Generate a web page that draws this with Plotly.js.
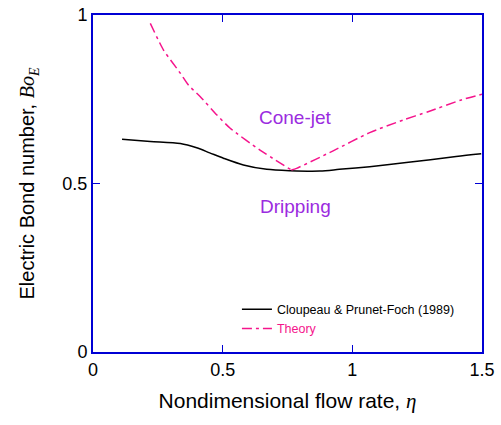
<!DOCTYPE html>
<html>
<head>
<meta charset="utf-8">
<script src="https://cdn.plot.ly/plotly-3.0.1.min.js"></script>
<style>html,body{margin:0;padding:0;background:#fff;}#chart{width:501px;height:425px;}</style>
</head>
<body>
<div id="chart"></div>
<script>
// Experimental data: Cloupeau & Prunet-Foch (1989)
var expX = [0.112, 0.221, 0.337, 0.40, 0.45, 0.503, 0.58, 0.67, 0.76, 0.875, 0.95, 1.067, 1.208, 1.40, 1.497];
var expY = [0.631, 0.625, 0.619, 0.606, 0.591, 0.575, 0.555, 0.542, 0.538, 0.537, 0.542, 0.550, 0.562, 0.580, 0.588];
// Theory curve (left and right branches meet at the minimum)
var theoryLeftX = [0.221, 0.272, 0.337, 0.368, 0.413, 0.478, 0.529, 0.644, 0.765];
var theoryLeftY = [0.975, 0.896, 0.827, 0.792, 0.758, 0.703, 0.664, 0.599, 0.540];
var theoryRightX = [0.765, 0.785, 0.926, 1.067, 1.195, 1.292, 1.42, 1.5];
var theoryRightY = [0.540, 0.545, 0.597, 0.651, 0.688, 0.713, 0.748, 0.765];
// Region labels
var regionLabels = ["Cone-jet", "Dripping"];
var regionX = [0.779, 0.779];
var regionY = [0.697, 0.433];
var xTicks = [0, 0.5, 1, 1.5];
var xTickText = ["0", "0.5", "1", "1.5"];
var yTicks = [0, 0.5, 1];
var yTickText = ["0", "0.5", "1"];

var pink = "#f5148c";
var purple = "#9b2be0";
var blue = "#0000d4";
var serif = "'Liberation Serif','Times New Roman',serif";
var dashPat = "10px,4px,3px,4px";

var traces = [
  {x: expX, y: expY, mode: "lines", name: "Cloupeau &amp; Prunet-Foch (1989)",
   line: {color: "#000", width: 1.5, shape: "spline", smoothing: 0.8}},
  {x: theoryLeftX, y: theoryLeftY, mode: "lines", name: '<span style="color:' + pink + '">Theory</span>',
   legendgroup: "th", line: {color: pink, width: 1.5, dash: dashPat, shape: "spline", smoothing: 0.6}},
  {x: theoryRightX, y: theoryRightY, mode: "lines", name: "Theory", showlegend: false,
   legendgroup: "th", line: {color: pink, width: 1.5, dash: dashPat, shape: "spline", smoothing: 0.6}}
];

var annotations = regionLabels.map(function(t, i){
  return {x: regionX[i], y: regionY[i], xref: "x", yref: "y", text: t, showarrow: false,
          font: {family: "Liberation Sans, Arial, sans-serif", size: 19, color: purple}};
});

var layout = {
  width: 501, height: 425,
  margin: {l: 92.5, r: 18.5, t: 15, b: 73},
  paper_bgcolor: "#fff", plot_bgcolor: "#fff",
  font: {family: "Liberation Sans, Arial, sans-serif", color: "#000"},
  showlegend: true,
  legend: {x: 0.37, y: 0.17, xanchor: "left", yanchor: "top", bgcolor: "rgba(0,0,0,0)",
           font: {size: 12.5, color: "#000"}, tracegroupgap: 0},
  xaxis: {range: [0, 1.5], tickvals: xTicks, ticktext: xTickText, ticks: "inside", ticklen: 7,
          tickwidth: 1.5, tickcolor: blue, showline: true, linecolor: blue, linewidth: 2,
          mirror: "ticks", showgrid: false, zeroline: false, tickfont: {size: 18},
          title: {text: 'Nondimensional flow rate, <span style="font-family:' + serif + ';font-style:italic">η</span>',
                  font: {size: 21}, standoff: 15}},
  yaxis: {range: [0, 1], tickvals: yTicks, ticktext: yTickText, ticks: "inside", ticklen: 7,
          tickwidth: 1.5, tickcolor: blue, showline: true, linecolor: blue, linewidth: 2,
          mirror: "ticks", showgrid: false, zeroline: false, tickfont: {size: 18},
          title: {text: 'Electric Bond number, <span style="font-family:' + serif + ';font-style:italic">Bo</span><sub><span style="font-family:' + serif + ';font-style:italic">E</span></sub>',
                  font: {size: 20}, standoff: 22}},
  annotations: annotations
};

Plotly.newPlot("chart", traces, layout, {displayModeBar: false, staticPlot: true});
</script>
</body>
</html>
